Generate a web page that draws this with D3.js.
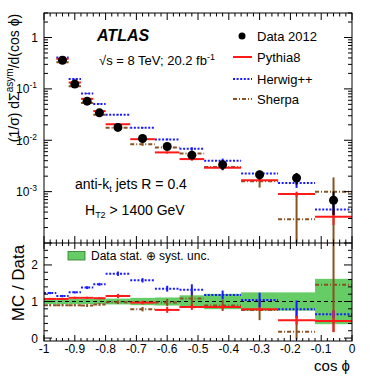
<!DOCTYPE html>
<html><head><meta charset="utf-8">
<script src="https://cdn.jsdelivr.net/npm/d3@7"></script>
<style>body{margin:0;background:#fff} text{font-family:"Liberation Sans",Arial,Helvetica,sans-serif;fill:#000}</style>
</head><body><svg id="c" width="371" height="382"></svg>
<script>
// ---------- data ----------
const binEdges = [-1,-0.96,-0.92,-0.88,-0.84,-0.8,-0.72,-0.64,-0.56,-0.48,-0.36,-0.24,-0.12,0];
const dataVals = [4.5,0.36,0.124,0.0576,0.0342,0.0178,0.0108,0.00755,0.00513,0.00335,0.00213,0.00184,0.00068];
const dataErr  = [0.2,0.012,0.005,0.0025,0.0015,0.0008,0.0006,0.0004,0.0007,0.0007,0.0004,0.00047,0.00033];
const pythiaVals = [4.8,0.385,0.133,0.064,0.037,0.0205,0.0105,0.0058,0.0043,0.0029,0.00166,0.0009,0.000325];
const pythiaErr  = [0,0.006,0.003,0.0015,0.001,0.0006,0.0004,0.0003,0.0003,0.0002,0.0001,0.0001,0.0001];
const herwigVals = [5.5,0.41,0.155,0.081,0.051,0.0314,0.0175,0.0104,0.0068,0.0040,0.00225,0.00148,0.00045];
const herwigErr  = [0,0.006,0.003,0.0015,0.001,0.0006,0.0005,0.0004,0.0005,0.0004,0.0003,0.0003,0.0001];
const sherpaVals = [4.1,0.33,0.112,0.053,0.0315,0.0176,0.0084,0.0072,0.0055,0.0030,0.0016,0.00029,0.00099];
const sherpaErr  = [0,0.006,0.003,0.0015,0.001,0.0006,0.0006,0.0006,0.0008,0.0004,0.0004,0.0006,0.0009];
// ratio panel (MC / Data)
const bandHalf    = [0.07,0.07,0.07,0.07,0.07,0.08,0.10,0.11,0.17,0.21,0.25,0.25,0.62];
const pythiaRatio = [1.07,1.07,1.10,1.10,1.09,1.15,0.97,0.77,0.85,0.85,0.79,0.49,0.47];
const pythiaRErr  = [0.03,0.03,0.03,0.03,0.03,0.06,0.05,0.08,0.08,0.06,0.05,0.12,0.30];
const herwigRatio = [1.23,1.15,1.25,1.38,1.47,1.76,1.58,1.35,1.32,1.18,1.04,0.79,0.65];
const herwigRErr  = [0.03,0.03,0.03,0.04,0.04,0.06,0.06,0.08,0.15,0.12,0.20,0.24,0.10];
const sherpaRatio = [0.90,0.90,0.90,0.89,0.92,0.98,0.79,0.97,1.08,0.89,0.77,0.17,1.46];
const sherpaRErr  = [0.03,0.03,0.03,0.04,0.04,0.05,0.06,0.10,0.20,0.15,0.28,0.60,1.30];
const xTickLabels = ["-1","-0.9","-0.8","-0.7","-0.6","-0.5","-0.4","-0.3","-0.2","-0.1","0"];
const topTickExps = [0,-1,-2,-3];
const ratioTickLabels = ["0","1","2"];

// ---------- layout ----------
const svg = d3.select("#c");
const L = 44, R = 352, T1 = 13, B1 = 243, T2 = 243, B2 = 341;
const x = d3.scaleLinear().domain([-1,0]).range([L,R]);
const yTop = d3.scaleLog().domain([1e-4,3]).range([B1,T1]);
const yBot = d3.scaleLinear().domain([-0.08,2.6]).range([B2,T2]);

const COL = {data:"#000", pythia:"#ff1a1a", herwig:"#1a1aff", sherpa:"#8a5220", band:"#66cc66"};
const DASH = {pythia:null, herwig:"2,1.6", sherpa:"4,2,1,2"};

const defs = svg.append("defs");
defs.append("clipPath").attr("id","clipTop").append("rect").attr("x",L).attr("y",T1).attr("width",R-L).attr("height",B1-T1);
defs.append("clipPath").attr("id","clipBot").append("rect").attr("x",L).attr("y",T2).attr("width",R-L).attr("height",B2-T2);

const bins = binEdges.slice(0,-1).map((lo,i)=>({i, lo, hi:binEdges[i+1], c:(lo+binEdges[i+1])/2}));

// ---------- top panel ----------
const gTop = svg.append("g").attr("clip-path","url(#clipTop)");
function drawMC(g, ys, vals, errs, key){
  const gg = g.append("g");
  gg.selectAll("line.e").data(bins).join("line")
    .attr("x1",d=>x(d.c)).attr("x2",d=>x(d.c))
    .attr("y1",d=>ys(Math.max(vals[d.i]-errs[d.i], ys.domain()[0]*0.5)))
    .attr("y2",d=>ys(vals[d.i]+errs[d.i]))
    .attr("stroke",COL[key]).attr("stroke-width",2);
  gg.selectAll("line.h").data(bins).join("line")
    .attr("x1",d=>x(d.lo)).attr("x2",d=>x(d.hi))
    .attr("y1",d=>ys(vals[d.i])).attr("y2",d=>ys(vals[d.i]))
    .attr("stroke",COL[key]).attr("stroke-width",2)
    .attr("stroke-dasharray",DASH[key]);
}
drawMC(gTop, yTop, sherpaVals, sherpaErr, "sherpa");
drawMC(gTop, yTop, herwigVals, herwigErr, "herwig");
drawMC(gTop, yTop, pythiaVals, pythiaErr, "pythia");
gTop.selectAll("line.de").data(bins).join("line")
  .attr("x1",d=>x(d.c)).attr("x2",d=>x(d.c))
  .attr("y1",d=>yTop(Math.max(dataVals[d.i]-dataErr[d.i],5e-5)))
  .attr("y2",d=>yTop(dataVals[d.i]+dataErr[d.i]))
  .attr("stroke","#000").attr("stroke-width",2);
gTop.selectAll("circle").data(bins).join("circle")
  .attr("cx",d=>x(d.c)).attr("cy",d=>yTop(dataVals[d.i])).attr("r",4.5).attr("fill","#000");

// ---------- bottom panel ----------
const gBot = svg.append("g").attr("clip-path","url(#clipBot)");
gBot.selectAll("rect.band").data(bins).join("rect")
  .attr("x",d=>x(d.lo)).attr("width",d=>x(d.hi)-x(d.lo))
  .attr("y",d=>yBot(1+bandHalf[d.i])).attr("height",d=>yBot(1-bandHalf[d.i])-yBot(1+bandHalf[d.i]))
  .attr("fill",COL.band);
gBot.append("line").attr("x1",L).attr("x2",R).attr("y1",yBot(1)).attr("y2",yBot(1))
  .attr("stroke","#000").attr("stroke-width",1.2).attr("stroke-dasharray","4,3");
drawMC(gBot, yBot, sherpaRatio, sherpaRErr, "sherpa");
drawMC(gBot, yBot, herwigRatio, herwigRErr, "herwig");
drawMC(gBot, yBot, pythiaRatio, pythiaRErr, "pythia");

// ---------- frames & ticks ----------
const axG = svg.append("g").attr("stroke","#000").attr("stroke-width",1);
axG.append("rect").attr("x",L).attr("y",T1).attr("width",R-L).attr("height",B2-T1).attr("fill","none");
axG.append("line").attr("x1",L).attr("x2",R).attr("y1",B1).attr("y2",B1);

const xMinor = d3.range(0,51).map(k=>-1+k*0.02);
function xTicks(y0, dir, maj, min){
  xMinor.forEach((v,k)=>{
    const len = (k%5===0)?maj:min;
    axG.append("line").attr("x1",x(v)).attr("x2",x(v)).attr("y1",y0).attr("y2",y0+dir*len);
  });
}
xTicks(T1, 1, 7, 3.5);
xTicks(B1, -1, 7, 3.5);
xTicks(T2, 1, 6, 3);
xTicks(B2, -1, 6, 3);

// log ticks
const logTicks = [];
for (let e=-4;e<=0;e++) for (let m=1;m<=9;m++){ const v=m*Math.pow(10,e); if (v<=3.0001) logTicks.push({v, major:m===1}); }
logTicks.forEach(t=>{
  const yy = yTop(t.v), len = t.major?8:4;
  axG.append("line").attr("x1",L).attr("x2",L+len).attr("y1",yy).attr("y2",yy);
  axG.append("line").attr("x1",R).attr("x2",R-len).attr("y1",yy).attr("y2",yy);
});
d3.range(0,13).map(k=>k*0.2).forEach((v,k)=>{
  const yy = yBot(v), len = (k%5===0)?8:4;
  axG.append("line").attr("x1",L).attr("x2",L+len).attr("y1",yy).attr("y2",yy);
  axG.append("line").attr("x1",R).attr("x2",R-len).attr("y1",yy).attr("y2",yy);
});

// tick labels
const xLab = svg.append("g").attr("font-size",12).attr("text-anchor","middle");
xTickLabels.forEach((s,k)=>{
  xLab.append("text").attr("x",x(-1+k*0.1)).attr("y",353).text(s);
});
const yLab = svg.append("g").attr("font-size",12).attr("text-anchor","end");
topTickExps.forEach(e=>{
  const t = yLab.append("text").attr("x",e===0?38:37).attr("y",yTop(Math.pow(10,e))+4.5);
  if (e===0) t.text("1");
  else { t.append("tspan").text("10"); t.append("tspan").attr("dy",-5).attr("font-size",8.5).text(String(e)); }
});
ratioTickLabels.forEach(s=>{
  yLab.append("text").attr("x",38).attr("y",yBot(+s)+4.5).text(s);
});

// axis titles
const yt = svg.append("text").attr("font-size",14).attr("text-anchor","middle")
  .attr("transform","translate(19,78) rotate(-90)");
yt.append("tspan").text("(1/σ) dΣ");
yt.append("tspan").attr("dy",-6).attr("font-size",10).text("asym");
yt.append("tspan").attr("dy",6).text("/d(cos ϕ)");
svg.append("text").attr("font-size",17).attr("text-anchor","middle")
  .attr("transform","translate(24,283) rotate(-90)").text("MC / Data");
svg.append("text").attr("font-size",15).attr("text-anchor","end").attr("x",350).attr("y",371).text("cos ϕ");

// annotations
svg.append("text").attr("x",97).attr("y",41).attr("font-size",16).attr("font-weight","bold").attr("font-style","italic").text("ATLAS");
const ecm = svg.append("text").attr("x",99).attr("y",65).attr("font-size",13);
ecm.append("tspan").text("√s = 8 TeV; 20.2 fb");
ecm.append("tspan").attr("dy",-5).attr("font-size",9).text("-1");
const ak = svg.append("text").attr("x",75).attr("y",189).attr("font-size",14);
ak.append("tspan").text("anti-k");
ak.append("tspan").attr("dy",3).attr("font-size",9).text("t");
ak.append("tspan").attr("dy",-3).text(" jets R = 0.4");
const ht = svg.append("text").attr("x",85).attr("y",215).attr("font-size",14);
ht.append("tspan").text("H");
ht.append("tspan").attr("dy",3).attr("font-size",9).text("T2");
ht.append("tspan").attr("dy",-3).text(" > 1400 GeV");

// legend
const lg = svg.append("g").attr("font-size",13);
const lgItems = [{key:"data",label:"Data 2012"},{key:"pythia",label:"Pythia8"},{key:"herwig",label:"Herwig++"},{key:"sherpa",label:"Sherpa"}];
const lgY = [36,57,79,99];
lgItems.forEach((it,k)=>{
  const yy = lgY[k];
  if (it.key==="data") lg.append("circle").attr("cx",242).attr("cy",yy).attr("r",3.5).attr("fill","#000");
  else lg.append("line").attr("x1",233).attr("x2",252).attr("y1",yy).attr("y2",yy)
        .attr("stroke",COL[it.key]).attr("stroke-width",2).attr("stroke-dasharray",DASH[it.key]);
  lg.append("text").attr("x",257).attr("y",yy+4.5).text(it.label);
});
svg.append("rect").attr("x",68).attr("y",251.5).attr("width",17).attr("height",8.5)
  .attr("fill",COL.band).attr("stroke","#2a7a2a").attr("stroke-width",0.8);
svg.append("text").attr("x",91).attr("y",260).attr("font-size",12).text("Data stat. ⊕ syst. unc.");
</script></body></html>
